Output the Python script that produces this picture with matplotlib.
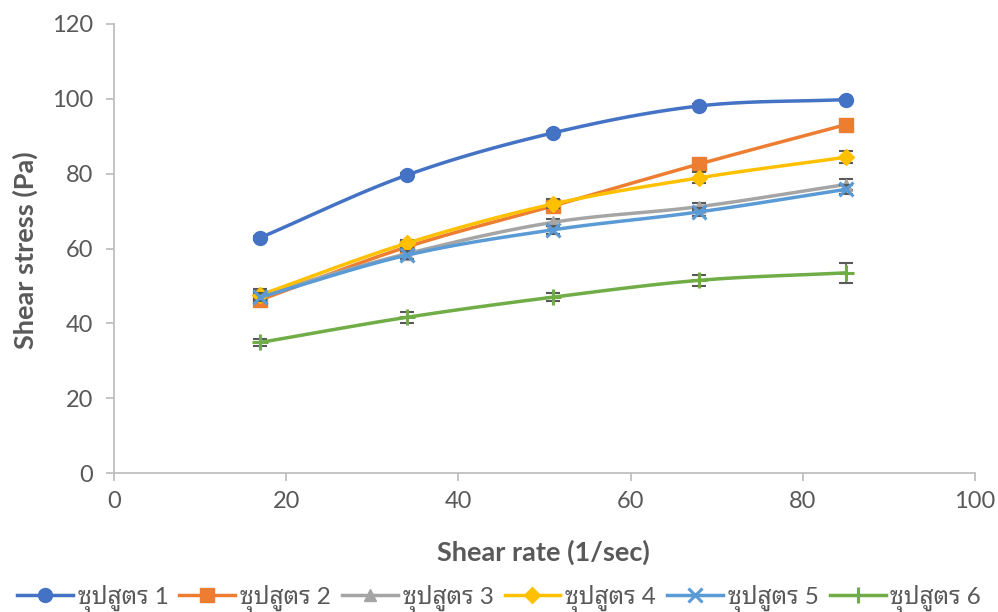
import numpy as np
import matplotlib
matplotlib.use('Agg')
import matplotlib.pyplot as plt
from matplotlib.lines import Line2D

# shear rate (1/sec)
shear_rate = [17, 34, 51, 68, 85]

# shear stress (Pa) per soup recipe
s1 = [62.9, 79.6, 90.9, 98.1, 99.8]
s2 = [46.3, 60.4, 71.4, 82.6, 93.1]
s3 = [47.6, 58.6, 67.0, 71.2, 77.1]
s4 = [47.6, 61.4, 71.9, 78.9, 84.4]
s5 = [47.0, 58.2, 65.0, 69.8, 75.8]
s6 = [34.9, 41.6, 47.0, 51.5, 53.5]

# error bars (Pa)
e1 = [0.5, 0.5, 0.5, 0.5, 0.5]
e2 = [1.5, 1.5, 1.2, 1.0, 1.0]
e3 = [1.5, 1.5, 1.0, 1.0, 1.5]
e4 = [1.2, 1.0, 1.2, 1.5, 1.6]
e5 = [1.0, 1.0, 1.0, 1.0, 1.2]
e6 = [1.0, 1.5, 1.0, 1.5, 2.6]

labels = ['ซุปสูตร 1', 'ซุปสูตร 2', 'ซุปสูตร 3', 'ซุปสูตร 4', 'ซุปสูตร 5', 'ซุปสูตร 6']
colors = ['#4472C4', '#ED7D31', '#A5A5A5', '#FFC000', '#5B9BD5', '#70AD47']
markers = ['o', 's', '^', 'D', 'x', '+']
msizes = [10, 9.5, 9, 8, 10, 11]

FONT = ['Lato', 'Noto Sans Thai Looped', 'DejaVu Sans']
plt.rcParams['font.family'] = FONT
GREY = '#595959'


def smooth(x, y, n=30):
    # catmull-rom style smoothing, like the spreadsheet "smoothed line"
    x = np.asarray(x, float)
    y = np.asarray(y, float)
    px = np.concatenate([[2 * x[0] - x[1]], x, [2 * x[-1] - x[-2]]])
    py = np.concatenate([[2 * y[0] - y[1]], y, [2 * y[-1] - y[-2]]])
    xs, ys = [], []
    t = np.linspace(0, 1, n)
    for i in range(1, len(px) - 2):
        for arr, out in ((px, xs), (py, ys)):
            p0, p1, p2, p3 = arr[i - 1], arr[i], arr[i + 1], arr[i + 2]
            out.extend(0.5 * ((2 * p1) + (-p0 + p2) * t
                              + (2 * p0 - 5 * p1 + 4 * p2 - p3) * t ** 2
                              + (-p0 + 3 * p1 - 3 * p2 + p3) * t ** 3))
    return np.array(xs), np.array(ys)


fig = plt.figure(figsize=(9.98, 6.12), dpi=100)
ax = fig.add_axes([114 / 998, 1 - 473 / 612, (975 - 114) / 998, (473 - 24) / 612])

series = [s1, s2, s3, s4, s5, s6]
errs = [e1, e2, e3, e4, e5, e6]
handles = []
for k, (ys, es) in enumerate(zip(series, errs)):
    z = 3 + k
    ax.errorbar(shear_rate, ys, yerr=es, fmt='none', ecolor=GREY, elinewidth=1.2,
                capsize=5, capthick=1.5, zorder=z)
    sx, sy = smooth(shear_rate, ys)
    ax.plot(sx, sy, color=colors[k], lw=2.5, solid_capstyle='round', zorder=z)
    mew = 2.2 if markers[k] in ('x', '+') else 1
    ax.plot(shear_rate, ys, ls='none', marker=markers[k], ms=msizes[k],
            color=colors[k], mec=colors[k], mew=mew, zorder=z + 0.5)
    handles.append(Line2D([], [], color=colors[k], lw=2.5, marker=markers[k],
                          ms=msizes[k], mec=colors[k], mew=mew))

ax.set_xlim(0, 100)
ax.set_ylim(0, 120)
ax.set_xticks(range(0, 101, 20))
ax.set_yticks(range(0, 121, 20))
for s in ('top', 'right'):
    ax.spines[s].set_visible(False)
for s in ('left', 'bottom'):
    ax.spines[s].set_color('#BFBFBF')
    ax.spines[s].set_linewidth(1.3)
ax.tick_params(axis='both', direction='out', length=6, width=1.3, color='#BFBFBF',
               labelcolor=GREY, labelsize=17)
ax.tick_params(axis='y', pad=9)
ax.tick_params(axis='x', pad=7)

fig.text(543 / 998, 1 - 552 / 612, 'Shear rate (1/sec)', ha='center', va='center',
         fontsize=19.5, fontweight='bold', color=GREY)
fig.text(25 / 998, 1 - 250 / 612, 'Shear stress (Pa)', ha='center', va='center',
         rotation=90, fontsize=19.5, fontweight='bold', color=GREY)

fig.legend(handles, labels, loc='center', bbox_to_anchor=(0.5, 1 - 598 / 612), ncol=6,
           frameon=False, fontsize=17.5, labelcolor=GREY, handlelength=2.3,
           handletextpad=0.2, columnspacing=0.45, borderaxespad=0)

fig.savefig('out.png', dpi=100)
